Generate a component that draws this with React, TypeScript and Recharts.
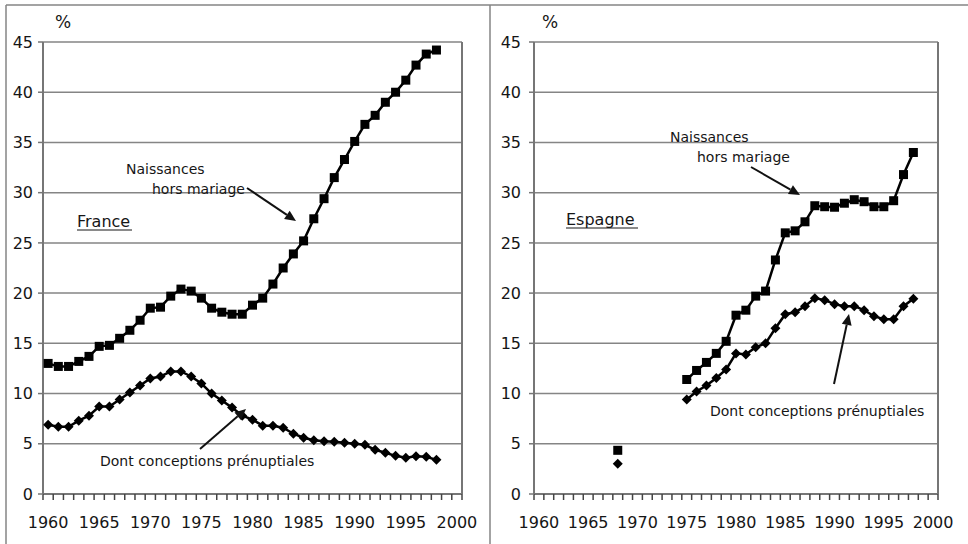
import React from 'react';
import { LineChart, Line, XAxis, YAxis, CartesianGrid, ReferenceLine } from 'recharts';

const YEARS = [
    1960, 1961, 1962, 1963, 1964, 1965, 1966, 1967, 1968, 1969,
    1970, 1971, 1972, 1973, 1974, 1975, 1976, 1977, 1978, 1979,
    1980, 1981, 1982, 1983, 1984, 1985, 1986, 1987, 1988, 1989,
    1990, 1991, 1992, 1993, 1994, 1995, 1996, 1997, 1998,
];

// France
const FR_HORS_MARIAGE = [
    13.0, 12.7, 12.7, 13.2, 13.7, 14.7, 14.8, 15.5, 16.3, 17.3,
    18.5, 18.6, 19.7, 20.4, 20.2, 19.5, 18.5, 18.1, 17.9, 17.9,
    18.8, 19.5, 20.9, 22.5, 23.9, 25.2, 27.4, 29.4, 31.5, 33.3,
    35.1, 36.8, 37.7, 39.0, 40.0, 41.2, 42.7, 43.8, 44.2,
];
const FR_PRENUPTIALES = [
    6.9, 6.7, 6.7, 7.3, 7.8, 8.7, 8.7, 9.4, 10.1, 10.8,
    11.5, 11.7, 12.2, 12.2, 11.7, 11.0, 10.0, 9.3, 8.6, 7.8,
    7.4, 6.8, 6.8, 6.6, 6.0, 5.6, 5.35, 5.25, 5.2, 5.1,
    5.0, 4.9, 4.4, 4.1, 3.8, 3.6, 3.75, 3.7, 3.4,
];

// Espagne (1968 isolé, puis 1975-1998)
const ES_HORS_MARIAGE = [
    null, null, null, null, null, null, null, null, 4.35, null,
    null, null, null, null, null, 11.4, 12.3, 13.1, 14.0, 15.2,
    17.8, 18.3, 19.7, 20.2, 23.3, 26.0, 26.2, 27.1, 28.7, 28.6,
    28.55, 28.95, 29.3, 29.1, 28.6, 28.6, 29.2, 31.8, 34.0,
];
const ES_PRENUPTIALES = [
    null, null, null, null, null, null, null, null, 3.0, null,
    null, null, null, null, null, 9.4, 10.2, 10.8, 11.55, 12.4,
    14.0, 13.9, 14.6, 15.0, 16.5, 17.9, 18.1, 18.7, 19.5, 19.3,
    18.9, 18.7, 18.7, 18.3, 17.7, 17.4, 17.4, 18.7, 19.45,
];

const Y_TICKS = [0, 5, 10, 15, 20, 25, 30, 35, 40, 45];
const YEAR_LABELS = [1960, 1965, 1970, 1975, 1980, 1985, 1990, 1995, 2000];
// tick marks sit between the years (category axis)
const X_TICKS = Array.from({ length: 42 }, (_, i) => 1959.5 + i);

const FONT = '"DejaVu Sans", "Liberation Sans", sans-serif';
const AXIS_GRAY = '#767676';
const GRID_GRAY = '#858585';
const TEXT = '#161616';

const CHART_H = 544;
const X_AXIS_H = 50;
const AXIS_Y = CHART_H - X_AXIS_H;

const toRows = (a: (number | null)[], b: (number | null)[]) =>
    YEARS.map((year, i) => ({ year, nhm: a[i], dcp: b[i] }));

const frData = toRows(FR_HORS_MARIAGE, FR_PRENUPTIALES);
const esData = toRows(ES_HORS_MARIAGE, ES_PRENUPTIALES);

const Square = (props: any) => {
    const { cx, cy, index } = props;
    if (cy == null || cx == null) return <g key={`s-${index}`} />;
    return <rect key={`s-${index}`} x={cx - 4.5} y={cy - 4.5} width={9} height={9} fill="#000" />;
};

const Diamond = (props: any) => {
    const { cx, cy, index } = props;
    if (cy == null || cx == null) return <g key={`d-${index}`} />;
    const r = 5;
    return (
        <polygon
            key={`d-${index}`}
            points={`${cx},${cy - r} ${cx + r},${cy} ${cx},${cy + r} ${cx - r},${cy}`}
            fill="#000"
        />
    );
};

// label centred on the year band, only every 5 years
function YearTick({ x, payload, band }: any) {
    const year = payload.value + 0.5;
    if (!YEAR_LABELS.includes(year)) return <g />;
    return (
        <text x={x + band / 2} y={AXIS_Y + 34} textAnchor="middle" fontSize={16} fontFamily={FONT} fill={TEXT}>
            {year}
        </text>
    );
}

interface PanelProps {
    data: any[];
    left: number;
    marginLeft: number;
    marginRight: number;
    labelGap: number;
}

function Panel({ data, left, marginLeft, marginRight, labelGap }: PanelProps) {
    const width = 484;
    const plotW = width - marginLeft - 30 - marginRight;
    const band = plotW / 41;
    return (
        <div style={{ position: 'absolute', left, top: 0 }}>
            <LineChart
                width={width}
                height={CHART_H}
                data={data}
                margin={{ top: 42, right: marginRight, bottom: 0, left: marginLeft }}
            >
                <CartesianGrid vertical={false} stroke={GRID_GRAY} strokeWidth={1.5} />
                <XAxis
                    dataKey="year"
                    type="number"
                    domain={[1959.5, 2000.5]}
                    ticks={X_TICKS}
                    interval={0}
                    height={X_AXIS_H}
                    tickSize={6}
                    tickMargin={0}
                    axisLine={{ stroke: AXIS_GRAY, strokeWidth: 2 }}
                    tickLine={{ stroke: '#444', strokeWidth: 1.5 }}
                    tick={<YearTick band={band} />}
                />
                <YAxis
                    type="number"
                    domain={[0, 45]}
                    ticks={Y_TICKS}
                    interval={0}
                    width={30}
                    tickSize={5}
                    tickMargin={labelGap}
                    axisLine={{ stroke: AXIS_GRAY, strokeWidth: 2 }}
                    tickLine={{ stroke: AXIS_GRAY, strokeWidth: 1.5 }}
                    tick={{ fontSize: 16, fontFamily: FONT, fill: TEXT }}
                />
                <ReferenceLine x={2000.5} stroke={AXIS_GRAY} strokeWidth={2} />
                <Line
                    dataKey="nhm"
                    stroke="#000"
                    strokeWidth={2.5}
                    dot={Square}
                    activeDot={false}
                    connectNulls={false}
                    isAnimationActive={false}
                />
                <Line
                    dataKey="dcp"
                    stroke="#000"
                    strokeWidth={2.5}
                    dot={Diamond}
                    activeDot={false}
                    connectNulls={false}
                    isAnimationActive={false}
                />
            </LineChart>
        </div>
    );
}

const Arrow = ({ x1, y1, x2, y2 }: { x1: number; y1: number; x2: number; y2: number }) => {
    const a = Math.atan2(y2 - y1, x2 - x1);
    const len = 11;
    const w = 5;
    const bx = x2 - len * Math.cos(a);
    const by = y2 - len * Math.sin(a);
    const px = -Math.sin(a) * w;
    const py = Math.cos(a) * w;
    return (
        <g>
            <line x1={x1} y1={y1} x2={bx} y2={by} stroke="#111" strokeWidth={2} />
            <polygon points={`${x2},${y2} ${bx + px},${by + py} ${bx - px},${by - py}`} fill="#111" />
        </g>
    );
};

export default function App() {
    const txt = { fontFamily: FONT, fill: TEXT } as const;
    return (
        <div style={{ position: 'absolute', left: 0, top: 0, width: 968, height: 544, background: '#fff', overflow: 'hidden' }}>
            <Panel data={frData} left={0} marginLeft={13} marginRight={22} labelGap={5} />
            <Panel data={esData} left={484} marginLeft={20} marginRight={30} labelGap={8} />
            <svg width={968} height={544} style={{ position: 'absolute', left: 0, top: 0, pointerEvents: 'none' }}>
                {/* frame */}
                <line x1={6} y1={5} x2={968} y2={5} stroke={GRID_GRAY} strokeWidth={1.5} />
                <line x1={6} y1={5} x2={6} y2={544} stroke={GRID_GRAY} strokeWidth={1.5} />
                <line x1={490} y1={5} x2={490} y2={544} stroke={GRID_GRAY} strokeWidth={1.5} />

                {/* France */}
                <text x={55} y={28} fontSize={17} {...txt}>%</text>
                <text x={77} y={227} fontSize={16} {...txt}>France</text>
                <line x1={77} y1={230} x2={132} y2={230} stroke={TEXT} strokeWidth={1.2} />
                <text x={126} y={174} fontSize={14} {...txt}>Naissances</text>
                <text x={152} y={194} fontSize={14} {...txt}>hors mariage</text>
                <Arrow x1={247} y1={188} x2={296} y2={221} />
                <text x={100} y={466} fontSize={14} {...txt}>Dont conceptions prénuptiales</text>
                <Arrow x1={200} y1={449} x2={246} y2={409} />

                {/* Espagne */}
                <text x={542} y={28} fontSize={17} {...txt}>%</text>
                <text x={566} y={225} fontSize={16} {...txt}>Espagne</text>
                <line x1={566} y1={228} x2={638} y2={228} stroke={TEXT} strokeWidth={1.2} />
                <text x={670} y={142} fontSize={14} {...txt}>Naissances</text>
                <text x={697} y={162} fontSize={14} {...txt}>hors mariage</text>
                <Arrow x1={751} y1={167} x2={800} y2={195} />
                <text x={710} y={416} fontSize={14} {...txt}>Dont conceptions prénuptiales</text>
                <Arrow x1={834} y1={384} x2={849} y2={314} />
            </svg>
        </div>
    );
}
